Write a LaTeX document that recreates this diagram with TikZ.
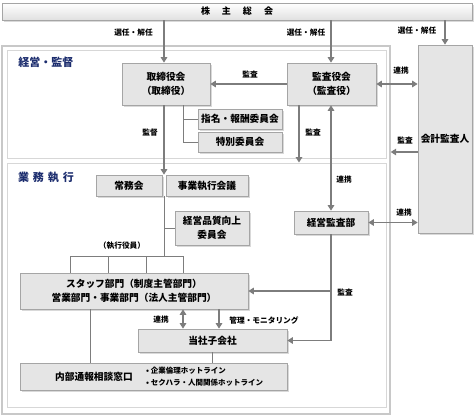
\documentclass[tikz,border=0pt]{standalone}
\usepackage{fontspec}
\setmainfont{Noto Sans CJK JP}
\usetikzlibrary{arrows.meta,shadows}

\definecolor{boxfill}{RGB}{229,229,229}
\definecolor{boxline}{RGB}{165,165,165}
\definecolor{arrgray}{RGB}{125,125,125}
\definecolor{framegray}{RGB}{200,200,200}
\definecolor{panelgray}{RGB}{215,215,215}
\definecolor{titleblue}{RGB}{28,45,110}

\tikzset{
  box/.style={draw=boxline, fill=boxfill, line width=0.7pt, inner sep=0pt, align=center,
    font=\bfseries\fontsize{9.7}{13.5}\selectfont,
    drop shadow={shadow xshift=1.5pt, shadow yshift=-1.5pt, opacity=0.3}},
  boxtext/.style={inner sep=0pt, font=\bfseries\fontsize{9.7}{13.5}\selectfont},
  lbl/.style={inner sep=0pt, font=\bfseries\fontsize{7.7}{9}\selectfont},
  arr/.style={draw=arrgray, line width=1.6pt, -{Triangle[length=5.5pt,width=6.5pt]}},
  dbl/.style={draw=arrgray, line width=1.6pt, {Triangle[length=5.5pt,width=6.5pt]}-{Triangle[length=5.5pt,width=6.5pt]}},
  link/.style={draw=arrgray, line width=0.9pt},
  panel/.style={draw=panelgray, line width=0.9pt, inner sep=0pt},
  ttl/.style={inner sep=0pt, text=titleblue, font=\bfseries\fontsize{11}{13}\selectfont}
}

\begin{document}
\begin{tikzpicture}[x=1pt,y=-1pt]
  \useasboundingbox (0,0) rectangle (475,416);

  % frames
  \node[draw=framegray, line width=1.3pt, inner sep=0pt, minimum width=388pt, minimum height=368pt] (outer) at (196,230) {};
  \node[panel, minimum width=379pt, minimum height=108pt] (keiei) at (196.5,104) {};
  \node[panel, minimum width=379pt, minimum height=244pt] (gyomu) at (196.5,285) {};
  \node[ttl] (keiei-ttl) at (46,62) {経営・監督};
  \node[ttl] (gyomu-ttl) at (46,177) {業\hspace{4pt}務\hspace{4pt}執\hspace{4pt}行};

  % boxes
  \node[draw=boxline, top color=white, bottom color=black!12, line width=0.7pt, inner sep=0pt,
    minimum width=470pt, minimum height=17pt, font=\bfseries\fontsize{9}{11}\selectfont,
    drop shadow={shadow xshift=1.5pt, shadow yshift=-1.5pt, opacity=0.3}] (soukai) at (237,11.5)
    {株\hspace{12pt}主\hspace{12pt}総\hspace{12pt}会};
  \node[box, minimum width=54pt, minimum height=188pt] (kaikei) at (445,139) {会計監査人};
  \node[box, minimum width=88pt, minimum height=42pt] (torishimari) at (166,84) {取締役会\\（取締役）};
  \node[box, minimum width=89pt, minimum height=42pt] (kansayaku) at (331.5,84) {監査役会\\（監査役）};
  \node[box, minimum width=84pt, minimum height=20pt] (shimei) at (240,119) {指名・報酬委員会};
  \node[box, minimum width=84pt, minimum height=20pt] (tokubetsu) at (240,142) {特別委員会};
  \node[box, minimum width=66pt, minimum height=21pt] (jomu) at (129,185.5) {常務会};
  \node[box, minimum width=82pt, minimum height=21pt] (jigyo) at (207,185.5) {事業執行会議};
  \node[box, minimum width=74pt, minimum height=34pt] (hinshitsu) at (212,228) {経営品質向上\\委員会};
  \node[box, minimum width=74pt, minimum height=23pt] (kansabu) at (331,222.5) {経営監査部};
  \node[box, minimum width=228pt, minimum height=36pt] (staff) at (134,291)
    {スタッフ部門（制度主管部門）\\営業部門・事業部門（法人主管部門）};
  \node[box, minimum width=149pt, minimum height=23pt] (kogaisha) at (212.5,340.5) {当社子会社};
  \node[box, minimum width=267pt, minimum height=27pt] (naibu) at (153.5,376.5) {};
  \node[boxtext] (naibu-name) at (94,377) {内部通報相談窓口};
  \node[lbl, anchor=west, align=left, font=\bfseries\fontsize{7.5}{12}\selectfont] (hotline) at (146,377)
    {• 企業倫理ホットライン\\• セクハラ・人間関係ホットライン};

  % labels
  \node[lbl] (senin1) at (133.5,33) {選任・解任};
  \node[lbl] (senin2) at (306,33) {選任・解任};
  \node[lbl] (senin3) at (417,31) {選任・解任};
  \node[lbl] (kansa1) at (250,75) {監査};
  \node[lbl] (renkei1) at (401,71) {連携};
  \node[lbl] (kantoku) at (150,133) {監督};
  \node[lbl] (kansa2) at (313,133) {監査};
  \node[lbl] (kansa3) at (405,141) {監査};
  \node[lbl] (renkei2) at (344,180) {連携};
  \node[lbl] (renkei3) at (404,213) {連携};
  \node[lbl] (yakuin-lbl) at (122,246) {（執行役員）};
  \node[lbl] (kansa4) at (345,293) {監査};
  \node[lbl] (renkei4) at (161,320) {連携};
  \node[lbl] (kanri) at (264,320) {管理・モニタリング};

  \coordinate (yakuin) at (164,256);
  \coordinate (legL) at (70,256);
  \coordinate (legR) at (183,256);

  % connectors
  \draw[arr] (soukai.south -| yakuin) -- (torishimari.north -| yakuin);
  \draw[arr] (soukai.south -| 331,0) -- (kansayaku.north -| 331,0);
  \draw[arr] (soukai.south -| kaikei.north) -- (kaikei.north);
  \draw[arr] (kansayaku.west) -- (torishimari.east);
  \draw[dbl] (kansayaku.east) -- (kansayaku.east -| kaikei.west);
  \draw[link] (torishimari.south -| legR) |- (tokubetsu.west);
  \draw[link] (shimei.west -| legR) -- (shimei.west);
  \draw[arr] (torishimari.south -| yakuin) -- (jomu.north -| yakuin);
  \draw[arr] (kansayaku.south -| 299,0) -- (gyomu.north -| 299,0);
  \draw[dbl] (kansabu.north |- kansayaku.south) -- (kansabu.north);
  \draw[arr] (kaikei.west |- 0,152) -- (outer.east |- 0,152);
  \draw[dbl] (kansabu.east) -- (kansabu.east -| kaikei.west);
  \draw[link] (jigyo.south -| yakuin) -- (yakuin);
  \draw[link] (hinshitsu.west -| yakuin) -- (hinshitsu.west);
  \draw[link] (legL) -- (legR);
  \foreach \x in {70,108,146,183}
    \draw[link] (\x,256) -- (staff.north -| \x,0);
  \draw[arr] (kansabu.south) |- (kogaisha.east);
  \draw[arr] (kansabu.south |- staff.east) -- (staff.east);
  \draw[dbl] (staff.south -| legR) -- (kogaisha.north -| legR);
  \draw[arr] (staff.south -| 219,0) -- (kogaisha.north -| 219,0);
  \draw[link] (staff.south -| 90,0) -- (naibu.north -| 90,0);
  \draw[link] (kogaisha.south) -- (kogaisha.south |- naibu.north);
\end{tikzpicture}
\end{document}
